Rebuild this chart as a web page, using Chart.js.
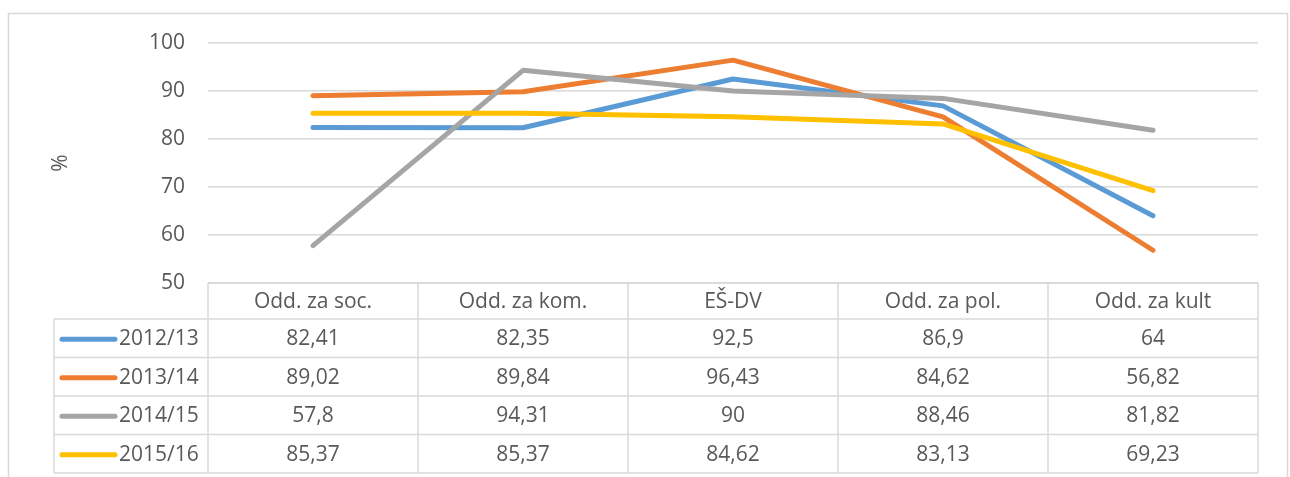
<!DOCTYPE html>
<html>
<head>
<meta charset="utf-8">
<script src="https://cdn.jsdelivr.net/npm/chart.js@4/dist/chart.umd.min.js"></script>
<style>
  html, body { margin: 0; padding: 0; background: #fff; }
  #wrap { position: relative; width: 1290px; height: 477px; }
</style>
</head>
<body>
<div id="wrap"><canvas id="chart" width="1290" height="477"></canvas></div>
<script>
const categories = ["Odd. za soc.", "Odd. za kom.", "EŠ-DV", "Odd. za pol.", "Odd. za kult"];
const seriesNames = ["2012/13", "2013/14", "2014/15", "2015/16"];
const values2012 = [82.41, 82.35, 92.5, 86.9, 64];
const values2013 = [89.02, 89.84, 96.43, 84.62, 56.82];
const values2014 = [57.8, 94.31, 90, 88.46, 81.82];
const values2015 = [85.37, 85.37, 84.62, 83.13, 69.23];
const yTicks = [50, 60, 70, 80, 90, 100];

const seriesColours = ["#5B9BD5", "#ED7D31", "#A5A5A5", "#FFC000"];
const seriesValues = [values2012, values2013, values2014, values2015];

const textColour = "#595959";
const lineColour = "#D9D9D9";
const fontFamily = "'Open Sans', 'Noto Sans', sans-serif";
const fontSize = 21;

function fmt(v) {
  return String(v).replace(".", ",");
}

// draws the outer frame and the data table under the plot
const dataTable = {
  id: "dataTable",
  afterDraw(chart) {
    const ctx = chart.ctx;
    const x = chart.scales.x;
    const area = chart.chartArea;
    const band = (area.right - area.left) / categories.length;
    const headTop = area.bottom;
    const headBottom = headTop + 36;
    const rowH = 38.5;
    const legendLeft = 54;
    const tableBottom = headBottom + rowH * seriesNames.length;

    ctx.save();
    ctx.strokeStyle = lineColour;
    ctx.lineWidth = 1.5;

    // outer frame
    ctx.strokeRect(8.5, 13.5, 1279, 480);

    ctx.beginPath();
    ctx.moveTo(area.left, headTop);
    ctx.lineTo(area.right, headTop);
    for (let r = 0; r <= seriesNames.length; r++) {
      const y = headBottom + r * rowH;
      ctx.moveTo(legendLeft, y);
      ctx.lineTo(area.right, y);
    }
    ctx.moveTo(legendLeft, headBottom);
    ctx.lineTo(legendLeft, tableBottom);
    for (let c = 0; c <= categories.length; c++) {
      const cx = area.left + c * band;
      ctx.moveTo(cx, headTop);
      ctx.lineTo(cx, tableBottom);
    }
    ctx.stroke();

    ctx.fillStyle = textColour;
    ctx.font = fontSize + "px " + fontFamily;
    ctx.textAlign = "center";
    ctx.textBaseline = "middle";
    categories.forEach((cat, i) => {
      ctx.fillText(cat, x.getPixelForValue(i), (headTop + headBottom) / 2 + 1);
    });

    seriesNames.forEach((name, r) => {
      const cy = headBottom + r * rowH + rowH / 2 + 1;
      ctx.strokeStyle = seriesColours[r];
      ctx.lineWidth = 5;
      ctx.lineCap = "round";
      ctx.beginPath();
      ctx.moveTo(62, cy);
      ctx.lineTo(115, cy);
      ctx.stroke();

      ctx.textAlign = "left";
      ctx.fillText(name, 119, cy);
      ctx.textAlign = "center";
      seriesValues[r].forEach((v, i) => {
        ctx.fillText(fmt(v), x.getPixelForValue(i), cy);
      });
    });
    ctx.restore();
  }
};

new Chart(document.getElementById("chart"), {
  type: "line",
  data: {
    labels: categories,
    datasets: seriesNames.map((name, i) => ({
      label: name,
      data: seriesValues[i],
      borderColor: seriesColours[i],
      backgroundColor: seriesColours[i],
      borderWidth: 5,
      borderCapStyle: "round",
      borderJoinStyle: "round",
      pointRadius: 0,
      tension: 0,
      order: seriesNames.length - i
    }))
  },
  options: {
    responsive: false,
    animation: false,
    layout: { padding: { top: 43, right: 32, bottom: 194, left: 0 } },
    plugins: { legend: { display: false }, tooltip: { enabled: false } },
    scales: {
      x: {
        offset: true,
        afterFit(scale) { scale.height = 0; },
        grid: { display: false },
        border: { display: false },
        ticks: { display: false }
      },
      y: {
        min: yTicks[0],
        max: yTicks[yTicks.length - 1],
        afterFit(scale) { scale.width = 208; },
        afterBuildTicks(scale) { scale.ticks = yTicks.map(v => ({ value: v })); },
        grid: { color: lineColour, lineWidth: 1.5, drawTicks: false },
        border: { display: false },
        ticks: {
          padding: 23,
          color: textColour,
          font: { family: fontFamily, size: fontSize }
        },
        title: {
          display: true,
          text: "%",
          color: textColour,
          font: { family: fontFamily, size: fontSize },
          padding: { top: 48 }
        }
      }
    }
  },
  plugins: [dataTable]
});
</script>
</body>
</html>
